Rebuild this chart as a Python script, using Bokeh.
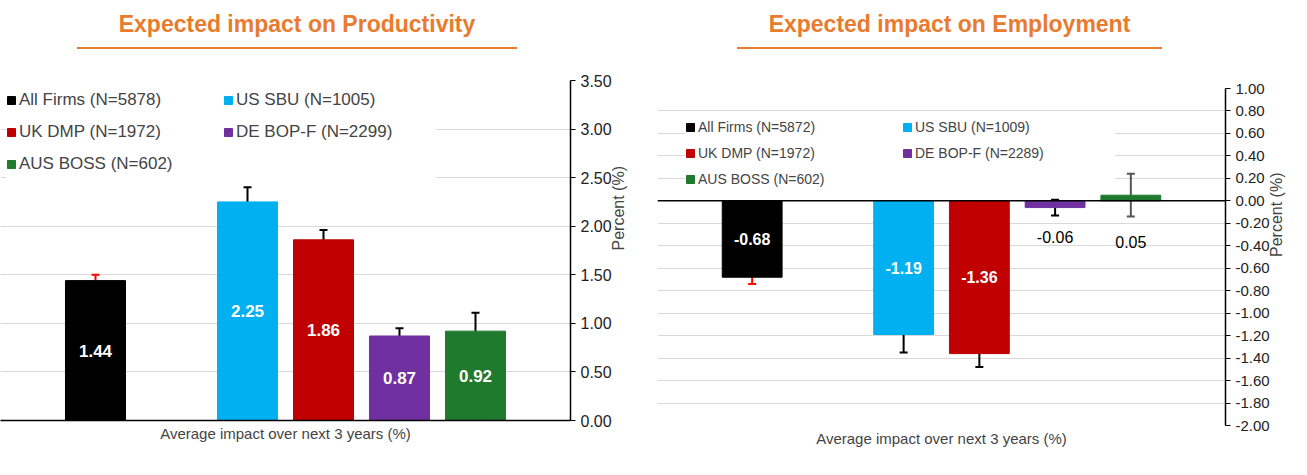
import math
from bokeh.plotting import figure
from bokeh.models import (ColumnDataSource, Whisker, Legend, LegendItem, Div, Range1d,
                          NumeralTickFormatter, Span, FixedTicker)
from bokeh.layouts import row, column
from bokeh.embed import file_html
from bokeh.resources import INLINE

names = ["All Firms", "US SBU", "UK DMP", "DE BOP-F", "AUS BOSS"]
colors = ["#000000", "#00B0F0", "#C00000", "#7030A0", "#1F7A2E"]
xpos = [0, 2, 3, 4, 5]

prod_n = [5878, 1005, 1972, 2299, 602]
prod_val = [1.44, 2.25, 1.86, 0.87, 0.92]
prod_lo = [1.39, 2.10, 1.76, 0.80, 0.73]
prod_hi = [1.50, 2.40, 1.96, 0.95, 1.11]

emp_n = [5872, 1009, 1972, 2289, 602]
emp_val = [-0.68, -1.19, -1.36, -0.06, 0.05]
emp_lo = [-0.74, -1.35, -1.48, -0.13, -0.14]
emp_hi = [-0.62, -1.02, -1.25, 0.01, 0.24]

FONT = "Liberation Sans"
ORANGE = "#E97B2E"


def make(vals, lo, hi, ns, yr, ticks, fh, rb, whisk_colors, label_colors, label_bold, label_y,
         leg_font, leg_h, leg_w, leg_margin, zero_line):
    p = figure(frame_width=568 if zero_line else 570, frame_height=fh, output_backend="svg",
               toolbar_location=None, y_axis_location="right",
               x_range=Range1d(-1.25, 6.25), y_range=Range1d(*yr),
               min_border_left=0, min_border_right=rb, min_border_top=10, min_border_bottom=0)
    p.outline_line_color = None
    p.xgrid.grid_line_color = None
    p.ygrid.grid_line_color = "#D9D9D9"
    p.yaxis.ticker = FixedTicker(ticks=ticks)
    p.yaxis.formatter = NumeralTickFormatter(format="0.00")
    p.yaxis.major_label_text_font = FONT
    p.yaxis.major_label_text_font_size = "16px" if not zero_line else "15px"
    p.yaxis.major_label_text_color = "#222222"
    p.yaxis.axis_label = "Percent (%)"
    p.yaxis.axis_label_text_font = FONT
    p.yaxis.axis_label_text_font_style = "normal"
    p.yaxis.axis_label_text_font_size = "16px"
    p.yaxis.axis_label_standoff = 4
    p.yaxis.axis_label_orientation = math.pi / 2
    p.yaxis.minor_tick_line_color = None
    p.yaxis.major_tick_out = 5
    p.yaxis.major_tick_in = 0
    p.yaxis.axis_line_color = "#000000"
    p.yaxis.axis_line_width = 1.5
    p.xaxis.ticker = FixedTicker(ticks=[])
    p.xaxis.major_label_text_font_size = "0px"
    p.xaxis.axis_label = "Average impact over next 3 years (%)"
    p.xaxis.axis_label_text_font = FONT
    p.xaxis.axis_label_text_font_style = "normal"
    p.xaxis.axis_label_text_font_size = "15px"
    p.xaxis.axis_label_standoff = 4
    if zero_line:
        p.xaxis.axis_line_color = None
        p.add_layout(Span(location=0, dimension="width", line_color="black", line_width=1.5))
    else:
        p.xaxis.axis_line_color = "black"
        p.xaxis.axis_line_width = 1.5

    items = []
    for i in range(5):
        src = ColumnDataSource(dict(x=[xpos[i]], top=[vals[i]], lo=[lo[i]], hi=[hi[i]],
                                    ly=[label_y[i]], t=[f"{vals[i]:.2f}"]))
        r = p.vbar(x="x", top="top", bottom=0, width=0.79, color=colors[i], source=src)
        w = Whisker(base="x", upper="hi", lower="lo", source=src, line_color=whisk_colors[i],
                    line_width=2)
        w.upper_head.line_color = whisk_colors[i]
        w.lower_head.line_color = whisk_colors[i]
        w.upper_head.line_width = 2
        w.lower_head.line_width = 2
        w.upper_head.size = 8
        w.lower_head.size = 8
        p.add_layout(w)
        p.text(x="x", y="ly", text="t", source=src, text_align="center", text_baseline="middle",
               text_color=label_colors[i], text_font_size="17px" if not zero_line else "16px",
               text_font_style="bold" if label_bold[i] else "normal", text_font={"value": FONT})
        items.append(LegendItem(label=f"{names[i]} (N={ns[i]})", renderers=[r]))
    order = [0, 2, 4, 1, 3]
    leg = Legend(items=[items[k] for k in order], ncols=2, location="top_left",
                 background_fill_color="white",
                 background_fill_alpha=1, border_line_color=None,
                 label_text_font=FONT, label_text_font_size=leg_font,
                 glyph_width=10, glyph_height=10, label_height=leg_h, label_width=leg_w,
                 spacing=4, label_standoff=3, padding=2, margin=leg_margin)
    p.add_layout(leg, "center")
    return p


p1 = make(prod_val, prod_lo, prod_hi, prod_n, (0, 3.5), [0, 0.5, 1, 1.5, 2, 2.5, 3, 3.5], 340, 87,
          ["#FF0000", "black", "black", "black", "black"], ["white"] * 5, [True] * 5,
          [v / 2 for v in prod_val], "17px", 28, 200, 6, False)
p2 = make(emp_val, emp_lo, emp_hi, emp_n, (-2.0, 1.0),
          [-2.0, -1.8, -1.6, -1.4, -1.2, -1.0, -0.8, -0.6, -0.4, -0.2, 0, 0.2, 0.4, 0.6, 0.8, 1.0],
          337, 66, ["#FF0000", "black", "black", "black", "#555555"],
          ["white", "white", "white", "black", "black"], [True, True, True, False, False],
          [emp_val[0] / 2, emp_val[1] / 2, emp_val[2] / 2, -0.32, -0.37], "14px", 22, 200, 28, True)


def title(txt, w, h, lpad, uw):
    return Div(text=f'<div style="width:{uw}px;margin-left:{lpad}px;text-align:center;'
                    f'font-family:{FONT};font-weight:bold;font-size:23px;color:{ORANGE};'
                    f'border-bottom:2px solid {ORANGE};padding:8px 0 6px 0;">{txt}</div>',
               width=w, height=h, margin=0)


d1 = title("Expected impact on Productivity", 657, 70, 77, 440)
d2 = title("Expected impact on Employment", 634, 78, 80, 425)
lay = row(column(d1, p1, spacing=0), column(d2, p2, spacing=0), spacing=0)
open("out.html", "w").write(file_html(lay, INLINE))
